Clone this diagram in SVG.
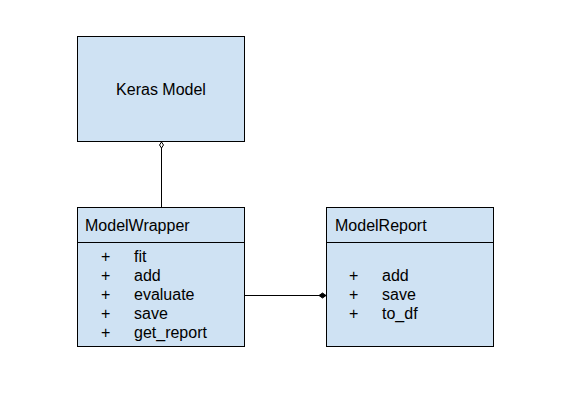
<svg xmlns="http://www.w3.org/2000/svg" width="585" height="402" viewBox="0 0 585 402">
<style>
.box{fill:#cfe2f3;stroke:#000;stroke-width:1}
.t{font-family:"Liberation Sans",Arial,sans-serif;font-size:16px;fill:#000}
.ln{stroke:#000;stroke-width:1;fill:none}
</style>
<defs>
<marker id="hollow" viewBox="0 0 8 8" refX="7.5" refY="4" markerWidth="8" markerHeight="8" markerUnits="userSpaceOnUse" orient="auto">
<path d="M1,4 L4,2 L7,4 L4,6 Z" fill="#fff" stroke="#000" stroke-width="1"/>
</marker>
<marker id="filled" viewBox="0 0 8 8" refX="7.5" refY="4" markerWidth="8" markerHeight="8" markerUnits="userSpaceOnUse" orient="auto">
<path d="M0.5,4 L4,1.5 L7.5,4 L4,6.5 Z" fill="#000" stroke="#000" stroke-width="1"/>
</marker>
</defs>
<g id="connectors">
<path class="ln" d="M161.5,207 L161.5,141.5" marker-end="url(#hollow)"/>
<path class="ln" d="M244,295.5 L326,295.5" marker-end="url(#filled)"/>
</g>
<g id="keras">
<rect class="box" x="77.5" y="36.5" width="167" height="105"/>
<text class="t" x="161" y="95" text-anchor="middle">Keras Model</text>
</g>
<g id="modelwrapper">
<rect class="box" x="77.5" y="207.5" width="167" height="139"/>
<line class="ln" x1="77.5" y1="242.5" x2="244.5" y2="242.5"/>
<text class="t" x="85" y="231">ModelWrapper</text>
<text class="t" x="101" y="262">+</text><text class="t" x="134" y="262">fit</text>
<text class="t" x="101" y="281">+</text><text class="t" x="134" y="281">add</text>
<text class="t" x="101" y="300">+</text><text class="t" x="134" y="300">evaluate</text>
<text class="t" x="101" y="319">+</text><text class="t" x="134" y="319">save</text>
<text class="t" x="101" y="338">+</text><text class="t" x="134" y="338">get_report</text>
</g>
<g id="modelreport">
<rect class="box" x="326.5" y="207.5" width="167" height="139"/>
<line class="ln" x1="326.5" y1="242.5" x2="493.5" y2="242.5"/>
<text class="t" x="335" y="231">ModelReport</text>
<text class="t" x="349" y="281">+</text><text class="t" x="382" y="281">add</text>
<text class="t" x="349" y="300">+</text><text class="t" x="382" y="300">save</text>
<text class="t" x="349" y="319">+</text><text class="t" x="382" y="319">to_df</text>
</g>
</svg>
